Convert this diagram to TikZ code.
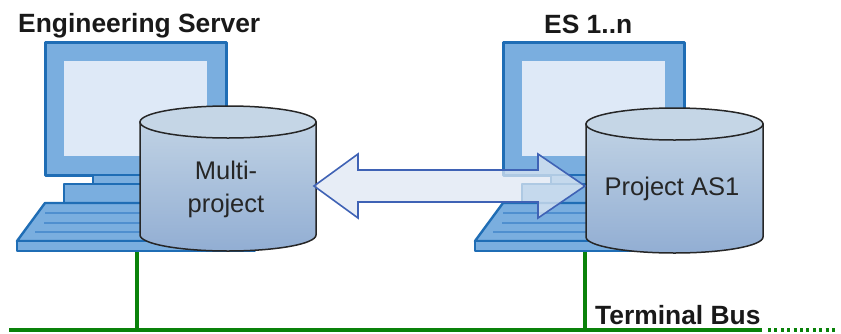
\documentclass[tikz,border=0pt]{standalone}
\usepackage{fontspec}
\setmainfont{Liberation Sans}
\definecolor{pcfill}{HTML}{7AAEDF}
\definecolor{pcline}{HTML}{1F6DB5}
\definecolor{pcscreen}{HTML}{DEE9F7}
\definecolor{pckey}{HTML}{4F8FCF}
\definecolor{cyltop}{HTML}{C5D6E6}
\definecolor{cylbot}{HTML}{92AED3}
\definecolor{arrowline}{HTML}{3F62B5}
\definecolor{arrowfill}{HTML}{DFE8F3}
\definecolor{busgreen}{HTML}{0A820A}
\tikzset{
  pcpart/.style={draw=pcline,fill=pcfill,line width=3pt,line join=round},
  keyline/.style={draw=pckey,line width=1.2pt},
  cylbody/.style={draw=black!85,line width=1.5pt,top color=cyltop!90!cylbot,bottom color=cylbot},
  cylcap/.style={draw=black!85,line width=1.5pt,fill=cyltop},
  bus/.style={draw=busgreen,line width=4pt},
  busdots/.style={draw=busgreen,line width=4pt,dash pattern=on 3pt off 3.4pt},
  heading/.style={font=\bfseries\fontsize{26.4}{29}\selectfont,text=black!90,inner sep=0pt,anchor=base west},
  cyltext/.style={font=\fontsize{25.5}{33}\selectfont,text=black!85,align=center,inner sep=0pt},
  bigarrow/.style={draw=arrowline,line width=1.6pt,fill=arrowfill,fill opacity=.75,line join=miter},
  pc/.pic={
    \draw[pcpart] (45,42) rectangle (226,175);
    \fill[pcscreen] (64,61) rectangle (207,156);
    \draw[pcpart,line width=2pt] (93,175) rectangle (226,184);
    \draw[pcpart,line width=2.4pt] (64,184) rectangle (240,203);
    \draw[pcpart,line width=2.4pt] (45,203) -- (240,203) -- (255,241) -- (17,241) -- cycle;
    \draw[pcpart,line width=2.4pt] (17,241) rectangle (255,251);
    \draw[keyline] (45,213) -- (235,213);
    \draw[keyline] (44,223) -- (240,223);
    \draw[keyline] (35,232) -- (245,232);
  }
}
\newcommand{\cyl}[6]{%
  % name, left, right, top-centre y, bottom-centre y, ry
  \draw[cylbody] (#2,#4) -- (#2,#5) arc[start angle=180,end angle=0,x radius={(#3-#2)/2},y radius=#6] -- (#3,#4) -- cycle;
  \draw[cylcap] ({(#2+#3)/2},#4) ellipse[x radius={(#3-#2)/2},y radius=#6];
  \coordinate (#1) at ({(#2+#3)/2},{(#4+#5)/2});
}
\begin{document}
\begin{tikzpicture}[x=1pt,y=-1pt]
\useasboundingbox (0,0) rectangle (841,333);
\fill[white] (0,0) rectangle (841,333);
% bus
\coordinate (busL) at (9,330);
\coordinate (busR) at (762,330);
\coordinate (busEnd) at (836,330);
\coordinate (tapA) at (137,330);
\coordinate (tapB) at (585,330);
\coordinate (pcA) at (137,250);
\coordinate (pcB) at (585,250);
\draw[bus] (busL) -- (busR);
\draw[busdots] (busR) ++(6,0) -- (busEnd);
\draw[bus,line width=3.4pt] (pcA) -- (tapA);
\draw[bus,line width=3.4pt] (pcB) -- (tapB);
% computers
\pic at (0,0) {pc};
\pic at (458,0) {pc};
% cylinders
\cyl{cylA}{140}{316}{122}{235}{16}
\cyl{cylB}{586}{763}{124}{237}{16}
\node[cyltext] (mp) at (226,189) {Multi-\\project};
\node[cyltext] (pa) at (672,189) {Project AS1};
% arrow
\coordinate (tipA) at (314,186);
\coordinate (tipB) at (585,186);
\path[bigarrow] (tipA) -- ++(44,-32) -- ++(0,16) -- ++(180,0) -- ++(0,-16) -- (tipB) -- ++(-47,32) -- ++(0,-16) -- ++(-180,0) -- ++(0,16) -- cycle;
% labels
\node[heading] (es) at (18,32) {Engineering Server};
\node[heading] (es1) at (544,33) {ES 1..n};
\node[heading] (tb) at (595,324) {Terminal Bus};
\end{tikzpicture}
\end{document}
